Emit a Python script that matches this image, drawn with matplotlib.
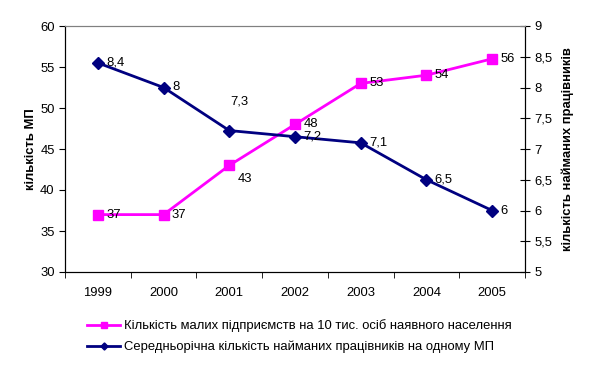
import numpy as np
import matplotlib.pyplot as plt

plt.rcParams['font.family'] = ['Liberation Sans', 'DejaVu Sans']

years = ['1999', '2000', '2001', '2002', '2003', '2004', '2005']
small_firms = [37, 37, 43, 48, 53, 54, 56]
workers = [8.4, 8, 7.3, 7.2, 7.1, 6.5, 6]
small_labels = ['37', '37', '43', '48', '53', '54', '56']
worker_labels = ['8,4', '8', '7,3', '7,2', '7,1', '6,5', '6']

label_small = 'Кількість малих підприємств на 10 тис. осіб наявного населення'
label_workers = 'Середньорічна кількість найманих працівників на одному МП'

fs = 9.4

fig = plt.figure(figsize=(5.95, 3.65), dpi=100)
ax = fig.add_axes([65 / 595, 1 - 272 / 365, 460 / 595, 246 / 365])
ax2 = ax.twinx()

x = np.arange(len(years))
l1, = ax.plot(x, small_firms, color='#ff00ff', lw=2, marker='s', ms=7,
              label=label_small, zorder=3)
l2, = ax2.plot(x, workers, color='#000080', lw=2, marker='D', ms=6,
               label=label_workers, zorder=3)

ax.set_xlim(-0.5, 6.5)
ax.set_ylim(30, 60)
ax.set_yticks(np.arange(30, 61, 5))
ax2.set_ylim(5, 9)
ax2.set_yticks(np.arange(5, 9.1, 0.5))
ax2.set_yticklabels(['5', '5,5', '6', '6,5', '7', '7,5', '8', '8,5', '9'])

ax.set_xticks(x)
ax.set_xticklabels(years)
ax.set_xticks(np.arange(-0.5, 7, 1), minor=True)
ax.tick_params(axis='x', which='major', length=0, pad=11, labelsize=fs)
ax.tick_params(axis='x', which='minor', length=4, direction='out')
ax.tick_params(axis='y', length=4, direction='out', labelsize=fs)
ax2.tick_params(axis='y', length=7, direction='inout', labelsize=fs)

for a in (ax, ax2):
    a.spines['top'].set_color('#808080')
    a.spines['left'].set_color('black')
    a.spines['right'].set_color('black')
    a.spines['bottom'].set_color('black')

ax.set_ylabel('кількість МП', fontsize=fs, fontweight='bold', labelpad=2)
ax2.set_ylabel('кількість найманих працівників', fontsize=fs, fontweight='bold',
               labelpad=6)

# data labels
small_off = [(6, 0), (6, 0), (6, -10), (6, 0), (6, 0), (6, 0), (6, 0)]
for xi, v, t, off in zip(x, small_firms, small_labels, small_off):
    ax.annotate(t, (xi, v), xytext=off, textcoords='offset points',
                fontsize=fs, va='center', ha='left')
work_off = [(6, 0), (6, 0), (1, 21), (6, 0), (6, 0), (6, 0), (6, 0)]
for xi, v, t, off in zip(x, workers, worker_labels, work_off):
    ax2.annotate(t, (xi, v), xytext=off, textcoords='offset points',
                 fontsize=fs, va='center', ha='left')

fig.legend(handles=[l1, l2], loc='upper left', bbox_to_anchor=(82 / 595, 1 - 314 / 365),
           frameon=False, fontsize=fs, handlelength=2.5, handletextpad=0.3,
           labelspacing=0.65, borderaxespad=0, markerscale=0.6)

fig.savefig('out.png', dpi=100)
